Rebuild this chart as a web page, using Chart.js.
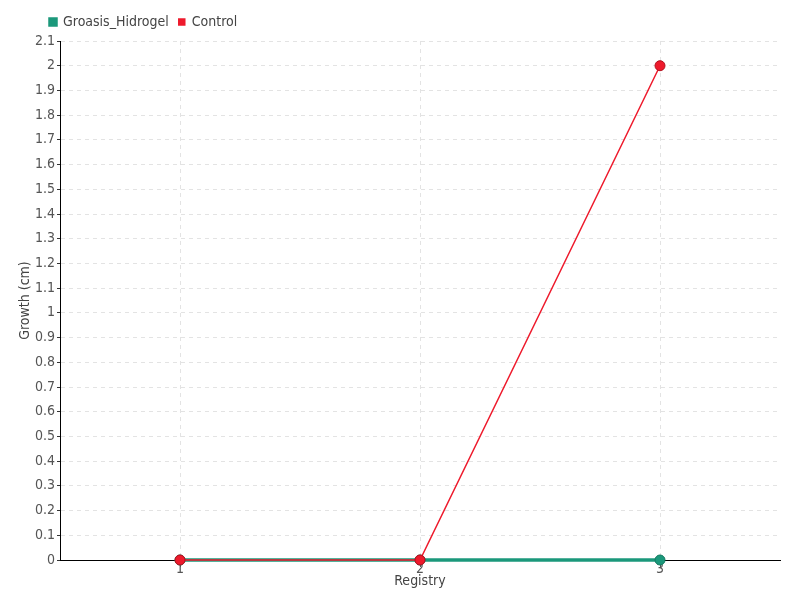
<!DOCTYPE html>
<html>
<head>
<meta charset="utf-8">
<script src="https://cdn.jsdelivr.net/npm/chart.js@4/dist/chart.umd.min.js"></script>
<style>
  html, body { margin: 0; padding: 0; background: #fff; }
  #wrap { width: 800px; height: 600px; }
</style>
</head>
<body>
<div id="wrap"><canvas id="chart" width="800" height="600"></canvas></div>
<script>
const registry = ['1', '2', '3'];
const hidrogelGrowth = [0, 0, 0];
const controlGrowth = [0, 0, 2];

const greenColor = '#1b987b';
const redColor = '#ee1a2c';
const fontFamily = '"Liberation Sans Narrow", "DejaVu Sans Condensed", sans-serif';

// nudge the legend right and leave a little more room under it
const legendShift = {
    id: 'legendShift',
    beforeLayout(chart) {
        const legend = chart.legend;
        if (legend && !legend._patched) {
            const fit = legend.fit;
            legend.fit = function() {
                fit.call(this);
                this.height += 2;
            };
            legend._patched = true;
        }
    },
    afterLayout(chart) {
        if (chart.legend) {
            chart.legend.left = 40;
            chart.legend.adjustHitBoxes();
        }
    }
};

const ctx = document.getElementById('chart').getContext('2d');
new Chart(ctx, {
    type: 'line',
    data: {
        labels: registry,
        datasets: [
            {
                label: 'Groasis_Hidrogel',
                data: hidrogelGrowth,
                borderColor: greenColor,
                backgroundColor: greenColor,
                borderWidth: 3.5,
                pointRadius: 5,
                pointBorderWidth: 1,
                pointBorderColor: '#137a60',
                pointBackgroundColor: greenColor,
                clip: 10,
                order: 1
            },
            {
                label: 'Control',
                data: controlGrowth,
                borderColor: redColor,
                backgroundColor: redColor,
                borderWidth: 1.5,
                pointRadius: 5,
                pointBorderWidth: 1,
                pointBorderColor: '#b3101e',
                pointBackgroundColor: redColor,
                clip: 10,
                order: 0
            }
        ]
    },
    options: {
        responsive: false,
        animation: false,
        layout: {
            padding: { top: 5, right: 20, bottom: 0, left: 0 }
        },
        plugins: {
            legend: {
                position: 'top',
                align: 'start',
                labels: {
                    boxWidth: 6,
                    boxHeight: 6,
                    padding: 10,
                    color: '#444',
                    font: { family: fontFamily, size: 14 },
                    sort: (a, b) => a.datasetIndex - b.datasetIndex
                }
            },
            tooltip: { enabled: false }
        },
        scales: {
            x: {
                offset: true,
                afterFit: (scale) => { scale.height = 40; },
                grid: {
                    offset: false,
                    color: '#e3e3e3',
                    tickColor: '#555',
                    tickLength: 7,
                    tickBorderDash: []
                },
                border: { color: '#000', width: 1, dash: [4, 4] },
                ticks: {
                    color: '#555',
                    padding: -6,
                    font: { family: fontFamily, size: 14 }
                },
                title: {
                    display: true,
                    text: 'Registry',
                    color: '#444',
                    padding: { top: 0, bottom: 10 },
                    font: { family: fontFamily, size: 14 }
                }
            },
            y: {
                min: 0,
                max: 2.1,
                afterFit: (scale) => { scale.width = 60; },
                grid: {
                    color: '#e3e3e3',
                    tickColor: '#333',
                    tickLength: 3,
                    tickBorderDash: []
                },
                border: { color: '#000', width: 1, dash: [4, 4] },
                ticks: {
                    stepSize: 0.1,
                    autoSkip: false,
                    color: '#555',
                    padding: 2,
                    font: { family: fontFamily, size: 14 },
                    callback: (value) => String(Number(value.toFixed(1)))
                },
                title: {
                    display: true,
                    text: 'Growth (cm)',
                    color: '#444',
                    padding: { top: 17, bottom: 4 },
                    font: { family: fontFamily, size: 14 }
                }
            }
        }
    },
    plugins: [legendShift]
});
</script>
</body>
</html>
